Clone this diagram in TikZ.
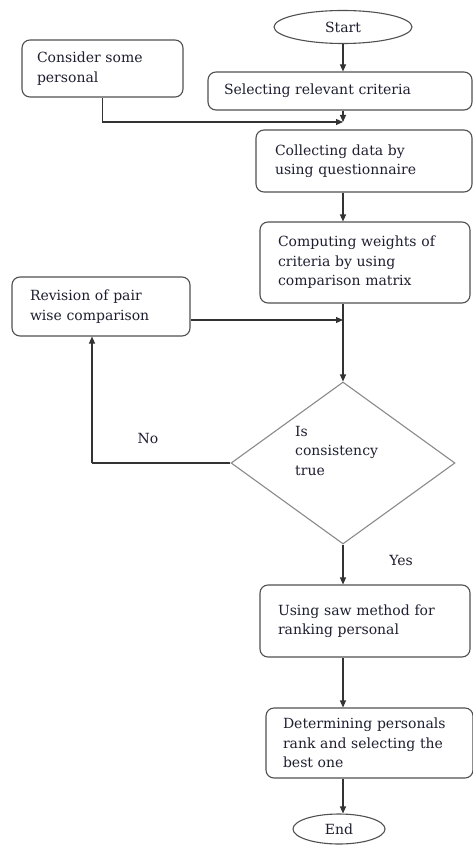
\documentclass[tikz,border=0pt]{standalone}
\usepackage{fontspec}
\setmainfont{DejaVu Serif}
\usetikzlibrary{shapes.geometric,arrows.meta,calc}
\definecolor{txt}{HTML}{1E1E30}
\definecolor{edge}{HTML}{505050}
\definecolor{dia}{HTML}{8A8A8A}
\begin{document}
\begin{tikzpicture}[x=1pt,y=-1pt,
  font=\fontsize{14}{19.5}\selectfont, text=txt,
  box/.style={draw=edge,line width=1.1pt,rounded corners=8pt,inner xsep=0pt,inner ysep=0pt,align=left},
  term/.style={draw=edge,line width=1.1pt,ellipse,inner sep=0pt},
  arr/.style={draw=black!80,line width=1.1pt,-{Triangle[length=7pt,width=6pt]}},
  ln/.style={draw=black!80,line width=1.1pt}]
\useasboundingbox (0,0) rectangle (473,845);
\node[term,minimum width=138pt,minimum height=33pt] (start) at (343,27) {Start};
\node[box,minimum width=264pt,minimum height=38pt,text width=232pt] (select) at (340,91) {Selecting relevant criteria};
\node[box,minimum width=161pt,minimum height=57pt,text width=131pt] (consider) at (102.5,68.5) {Consider some\\personal};
\node[box,minimum width=216pt,minimum height=62pt,text width=178pt] (collect) at (364,161) {Collecting data by\\using questionnaire};
\node[box,minimum width=210pt,minimum height=81pt,text width=174pt] (compute) at (365,262.5) {Computing weights of\\criteria by using\\comparison matrix};
\node[box,minimum width=178pt,minimum height=59pt,text width=142pt] (revision) at (101,306.5) {Revision of pair\\wise comparison};
\node[diamond,draw=dia,line width=1.1pt,minimum width=224pt,minimum height=162pt,inner sep=0pt] (dec) at (343,463) {};
\node[align=left,anchor=north west,inner sep=0pt] (dectext) at (295,426) {Is\\consistency\\true};
\node[box,minimum width=210pt,minimum height=72pt,text width=174pt] (using) at (365,621) {Using saw method for\\ranking personal\\[10pt]};
\node[box,minimum width=207pt,minimum height=70pt,text width=173pt] (determine) at (369.5,743) {Determining personals\\rank and selecting the\\best one};
\node[term,minimum width=92pt,minimum height=30pt] (end) at (339,829) {End};
\node[inner sep=0pt] (no) at (148,438) {No};
\node[inner sep=0pt] (yes) at (401,560) {Yes};
\coordinate (j1) at (343,122);
\coordinate (j2) at (343,320);
\coordinate (nocorner) at (92,463);
\draw[arr] (start.south) -- (start.south |- select.north);
\draw[arr] (start.south |- select.south) -- (j1);
\draw[arr] (consider.south) |- (j1);
\draw[arr] (j1 |- collect.south) -- (j1 |- compute.north);
\draw[ln] (j1 |- compute.south) -- (j2);
\draw[arr] (j2) -- (dec.north);
\draw[arr] (revision.east |- j2) -- (j2);
\draw[ln] (dec.west) -- (nocorner);
\draw[arr] (nocorner) -- (nocorner |- revision.south);
\draw[arr] (dec.south) -- (dec.south |- using.north);
\draw[arr] (dec.south |- using.south) -- (dec.south |- determine.north);
\draw[arr] (dec.south |- determine.south) -- (end.north -| dec.south);
\end{tikzpicture}
\end{document}
